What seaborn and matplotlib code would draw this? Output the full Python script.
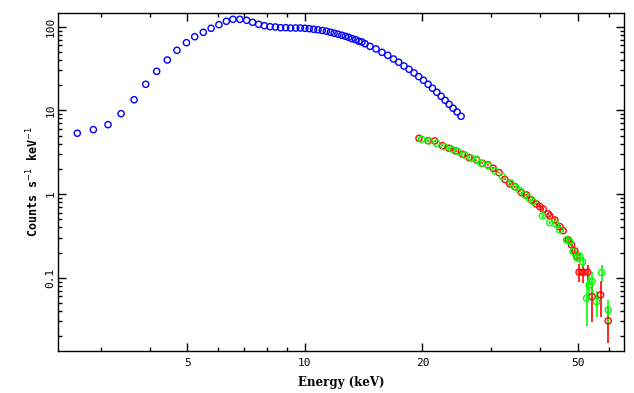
import matplotlib
matplotlib.use("Agg")
import matplotlib.pyplot as plt
import seaborn as sns
from matplotlib.ticker import FixedLocator, FixedFormatter, NullFormatter

# spectrum values (energy in keV, counts s^-1 keV^-1)
blue_e = [2.61, 2.87, 3.13, 3.38, 3.65, 3.91, 4.17, 4.44, 4.70, 4.97,
          5.22, 5.49, 5.75, 6.02, 6.29, 6.54, 6.81, 7.09, 7.34, 7.61,
          7.87, 8.14, 8.40, 8.66, 8.93, 9.19, 9.47, 9.73, 10.0, 10.26,
          10.53, 10.80, 11.08, 11.35, 11.62, 11.88, 12.15, 12.43, 12.70, 12.94,
          13.20, 13.49, 13.75, 14.00, 14.25, 14.68, 15.21, 15.75, 16.30, 16.86,
          17.39, 17.94, 18.48, 19.03, 19.57, 20.12, 20.68, 21.22, 21.77, 22.33,
          22.86, 23.40, 23.96, 24.53, 25.12]
blue_c = [5.33, 5.88, 6.75, 9.13, 13.4, 20.5, 29.3, 40.0, 52.2, 64.4,
          75.9, 85.7, 95.7, 105.7, 116.0, 122.6, 122.6, 119.2, 112.9, 106.8,
          102.8, 100.0, 99.2, 97.3, 97.3, 96.5, 96.5, 96.5, 95.7, 94.6,
          93.1, 91.8, 90.1, 88.4, 85.9, 83.6, 81.4, 79.0, 76.8, 74.7,
          71.9, 69.9, 66.9, 65.6, 62.6, 58.3, 54.2, 49.4, 45.5, 41.1,
          37.6, 33.9, 31.0, 28.0, 25.3, 22.9, 20.5, 18.4, 16.45, 14.74,
          13.2, 11.83, 10.6, 9.57, 8.50]

red_e = [19.60, 20.67, 21.51, 22.51, 23.40, 24.34, 25.33, 26.33, 27.51, 28.50,
         29.46, 30.35, 31.44, 32.52, 33.49, 34.49, 35.88, 36.96, 38.06, 39.20,
         39.98, 40.76, 42.00, 42.41, 43.68, 44.99, 45.87, 47.25, 48.20, 49.15,
         49.64, 50.41, 51.61, 52.97, 54.43, 57.20, 59.83]
red_c = [4.64, 4.345, 4.31, 3.786, 3.525, 3.273, 2.989, 2.722, 2.555, 2.333,
         2.227, 2.033, 1.802, 1.494, 1.320, 1.226, 1.039, 0.975, 0.850, 0.761,
         0.707, 0.658, 0.578, 0.547, 0.490, 0.408, 0.365, 0.283, 0.2465, 0.209,
         0.182, 0.1163, 0.1163, 0.1163, 0.0594, 0.0623, 0.0305]
red_err = [0.08, 0.08, 0.08, 0.07, 0.07, 0.06, 0.06, 0.06, 0.05, 0.05,
           0.05, 0.05, 0.04, 0.04, 0.035, 0.035, 0.03, 0.03, 0.03, 0.025,
           0.025, 0.025, 0.02, 0.02, 0.02, 0.018, 0.018, 0.016, 0.016, 0.015,
           0.015, 0.028, 0.030, 0.024, 0.030, 0.028, 0.014]

green_e = [19.88, 20.79, 21.72, 22.72, 23.74, 24.68, 25.68, 26.72, 27.51, 28.33,
           29.46, 30.65, 32.08, 33.69, 34.70, 35.53, 36.59, 37.53, 38.42, 40.62,
           42.41, 43.94, 44.99, 46.80, 47.71, 48.65, 49.81, 50.61, 51.43, 52.65,
           53.47, 54.43, 55.86, 57.54, 59.83]
green_c = [4.516, 4.31, 4.045, 3.684, 3.457, 3.211, 2.932, 2.677, 2.605, 2.333,
           2.184, 1.888, 1.614, 1.357, 1.206, 1.098, 0.975, 0.891, 0.811, 0.547,
           0.455, 0.439, 0.372, 0.283, 0.270, 0.205, 0.171, 0.1787, 0.1557, 0.0569,
           0.0820, 0.0898, 0.0518, 0.1151, 0.0412]
green_err = [0.08, 0.08, 0.07, 0.07, 0.07, 0.06, 0.06, 0.06, 0.05, 0.05,
             0.05, 0.04, 0.04, 0.035, 0.035, 0.03, 0.03, 0.03, 0.03, 0.025,
             0.02, 0.02, 0.02, 0.018, 0.018, 0.016, 0.016, 0.025, 0.023, 0.0306,
             0.0276, 0.028, 0.018, 0.0266, 0.0123]

x_major = [5, 10, 20, 50]
x_minor = [3, 4, 6, 7, 8, 9, 30, 40, 60]
y_major = [0.1, 1, 10, 100]
y_labels = ["0.1", "1", "10", "100"]

sns.set_style("ticks")
plt.rcParams["font.family"] = ["DejaVu Sans Mono", "DejaVu Sans"]
plt.rcParams["text.color"] = "black"
plt.rcParams["axes.labelcolor"] = "black"
plt.rcParams["xtick.color"] = "black"
plt.rcParams["ytick.color"] = "black"

fig = plt.figure(figsize=(6.34, 3.93), dpi=100)
ax = fig.add_axes([0.0915, 0.1069, 0.8932, 0.8608])

sets = [(blue_e, blue_c, None, "#0000ff"),
        (red_e, red_c, red_err, "#ff0000"),
        (green_e, green_c, green_err, "#00ff00")]
for e, c, err, col in sets:
    if err is not None:
        ax.errorbar(e, c, yerr=err, fmt="none", ecolor=col, elinewidth=1.2,
                    capsize=0, zorder=2)
    sns.scatterplot(x=e, y=c, ax=ax, marker="o", s=20, facecolor="none",
                    edgecolor=col, linewidth=1.0, zorder=3)

ax.set_xscale("log")
ax.set_yscale("log")
ax.set_xlim(2.33, 65.8)
ax.set_ylim(0.0133, 147)

ax.xaxis.set_major_locator(FixedLocator(x_major))
ax.xaxis.set_major_formatter(FixedFormatter([str(v) for v in x_major]))
ax.xaxis.set_minor_locator(FixedLocator(x_minor))
ax.xaxis.set_minor_formatter(NullFormatter())
ax.yaxis.set_major_locator(FixedLocator(y_major))
ax.yaxis.set_major_formatter(FixedFormatter(y_labels))
ax.yaxis.set_minor_locator(FixedLocator(
    [m * d for d in [0.01, 0.1, 1, 10, 100] for m in range(2, 10)]))
ax.yaxis.set_minor_formatter(NullFormatter())

ax.tick_params(which="both", direction="in", top=True, right=True,
               width=1.0, colors="black", labelcolor="black", labelsize=8)
ax.tick_params(which="major", length=6)
ax.tick_params(axis="x", which="major", pad=5)
ax.tick_params(axis="y", which="major", pad=2)
ax.tick_params(which="minor", length=3)
for lab in ax.get_yticklabels():
    lab.set_rotation(90)
    lab.set_va("center")
for sp in ax.spines.values():
    sp.set_linewidth(1.0)
    sp.set_color("black")

ax.set_xlabel("Energy (keV)", fontsize=8.5, fontweight="bold",
              family="DejaVu Serif", color="black", labelpad=6)
ax.set_ylabel("Counts s$^{-1}$ keV$^{-1}$", fontsize=8.5, fontweight="bold",
              color="black", labelpad=3)

fig.savefig("out.png", dpi=100)
